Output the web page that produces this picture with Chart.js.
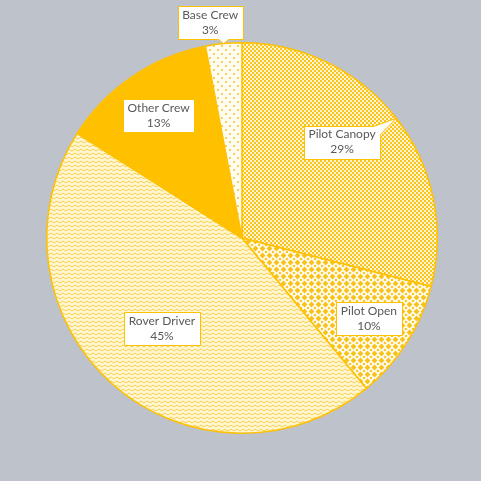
<!DOCTYPE html>
<html><head><meta charset="utf-8">
<script src="https://cdn.jsdelivr.net/npm/chart.js@4"></script>
<style>html,body{margin:0;padding:0;background:#bec3cb;}canvas{display:block;}</style>
</head><body>
<canvas id="c" width="481" height="481"></canvas>
<script>
const categories = ['Pilot Canopy', 'Pilot Open', 'Rover Driver', 'Other Crew', 'Base Crew'];
const values = [29, 10, 45, 13, 3];

const GOLD = '#FFC000';

function pattern(kind) {
  const c = document.createElement('canvas');
  const x = c.getContext('2d');
  if (kind === 'dense') {
    c.width = 4; c.height = 4;
    x.fillStyle = '#fff4d2'; x.fillRect(0,0,4,4);
    x.fillStyle = '#f9c51c';
    x.fillRect(0,0,2,2); x.fillRect(2,2,2,2);
  } else if (kind === 'diamond') {
    c.width = 7; c.height = 7;
    x.fillStyle = '#fffdf4'; x.fillRect(0,0,7,7);
    x.fillStyle = '#f8c21a';
    const d = (cx, cy, r) => { x.beginPath(); x.moveTo(cx, cy-r); x.lineTo(cx+r, cy); x.lineTo(cx, cy+r); x.lineTo(cx-r, cy); x.closePath(); x.fill(); };
    d(3.5,3.5,2.9);
    d(0,0,1.6); d(7,0,1.6); d(0,7,1.6); d(7,7,1.6);
  } else if (kind === 'zigzag') {
    c.width = 6; c.height = 4;
    x.fillStyle = '#fff6d4'; x.fillRect(0,0,6,4);
    x.strokeStyle = '#f7cf4a'; x.lineWidth = 1;
    x.beginPath(); x.moveTo(0,3); x.lineTo(3,1); x.lineTo(6,3); x.stroke();
  } else if (kind === 'sparse') {
    c.width = 8; c.height = 8;
    x.fillStyle = '#fffcf0'; x.fillRect(0,0,8,8);
    x.fillStyle = '#f5d060';
    x.fillRect(1,1,2,2); x.fillRect(5,5,2,2);
  }
  return x.createPattern(c, 'repeat');
}

const fills = [pattern('dense'), pattern('diamond'), pattern('zigzag'), GOLD, pattern('sparse')];

// label placement: radial fraction along slice mid-angle, angle shift (deg), callout flag
const labelPlace = [
  { r: 0.71, shift: -6, callout: true },
  { r: 0.77, shift: 0 },
  { r: 0.62, shift: 0 },
  { r: 0.76, shift: 0 },
  { r: 1.115, shift: -3, callout: true }
];

const labelPlugin = {
  id: 'boxLabels',
  afterDatasetsDraw(chart) {
    const ctx = chart.ctx;
    const meta = chart.getDatasetMeta(0);
    const total = values.reduce((a, b) => a + b, 0);
    ctx.save();
    ctx.font = '12px Lato, "Open Sans", sans-serif';
    ctx.textAlign = 'center';
    ctx.textBaseline = 'middle';
    meta.data.forEach((arc, i) => {
      const p = arc.getProps(['x', 'y', 'startAngle', 'endAngle', 'outerRadius'], true);
      const mid = (p.startAngle + p.endAngle) / 2;
      const place = labelPlace[i];
      const a = mid + place.shift * Math.PI / 180;
      const cx = p.x + Math.cos(a) * p.outerRadius * place.r;
      const cy = p.y + Math.sin(a) * p.outerRadius * place.r;
      const pct = Math.round(values[i] / total * 100) + '%';
      const lines = [categories[i], pct];
      const w = Math.max(...lines.map(l => ctx.measureText(l).width)) + 9;
      const h = 33;
      const x0 = Math.round(cx - w / 2) + 0.5, x1 = Math.round(cx + w / 2) + 0.5;
      const y0 = Math.round(cy - h / 2) + 0.5, y1 = Math.round(cy + h / 2) + 0.5;
      ctx.beginPath();
      if (place.callout) {
        const tx = p.x + Math.cos(mid) * p.outerRadius;
        const ty = p.y + Math.sin(mid) * p.outerRadius;
        if (ty > y1 && tx > x0 && tx < x1) {
          const bx = Math.min(Math.max(tx, x0 + 8), x1 - 8);
          ctx.moveTo(x0, y0); ctx.lineTo(x1, y0); ctx.lineTo(x1, y1);
          ctx.lineTo(bx + 5, y1); ctx.lineTo(tx, ty); ctx.lineTo(bx - 5, y1);
          ctx.lineTo(x0, y1); ctx.closePath();
        } else {
          ctx.moveTo(x0, y0); ctx.lineTo(x1 - 7, y0); ctx.lineTo(tx, ty);
          ctx.lineTo(x1, y0 + 8); ctx.lineTo(x1, y1); ctx.lineTo(x0, y1); ctx.closePath();
        }
      } else {
        ctx.rect(x0, y0, x1 - x0, y1 - y0);
      }
      ctx.fillStyle = '#ffffff';
      ctx.fill();
      ctx.strokeStyle = GOLD;
      ctx.lineWidth = 1;
      ctx.stroke();
      ctx.fillStyle = '#595959';
      ctx.fillText(lines[0], cx, cy - 7.5);
      ctx.fillText(lines[1], cx, cy + 7.5);
    });
    ctx.restore();
  }
};

new Chart(document.getElementById('c'), {
  type: 'pie',
  data: {
    labels: categories,
    datasets: [{
      data: values,
      backgroundColor: fills,
      borderColor: GOLD,
      borderWidth: 1.5
    }]
  },
  options: {
    responsive: false,
    animation: false,
    devicePixelRatio: 1,
    layout: { padding: { left: 46, right: 43, top: 42, bottom: 47 } },
    plugins: { legend: { display: false }, tooltip: { enabled: false } }
  },
  plugins: [labelPlugin]
});
</script>
</body></html>
